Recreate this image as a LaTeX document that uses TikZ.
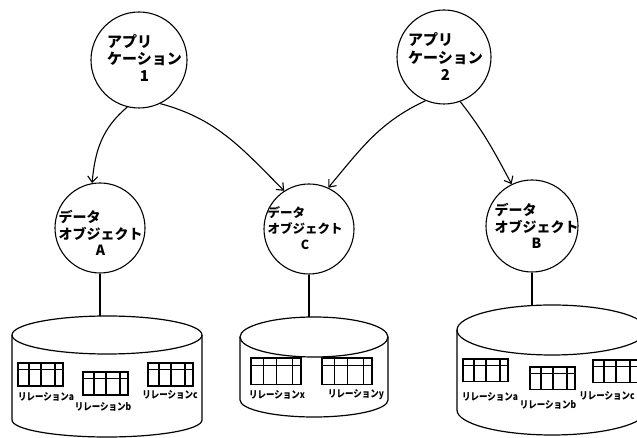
\documentclass[tikz,border=0pt]{standalone}
\usepackage{fontspec}
\newfontfamily\jp{Noto Sans CJK JP}
\newfontfamily\jpc[FakeStretch=0.85]{Noto Sans CJK JP}
\usetikzlibrary{arrows.meta}
\tikzset{
  circ/.style={circle, draw, line width=1.1pt, minimum size=#1, inner sep=0pt},
  apptext/.style={font=\jp\bfseries\fontsize{15}{17}\selectfont, inner sep=0pt},
  objtext/.style={font=\jp\bfseries\fontsize{14}{15.5}\selectfont, inner sep=0pt},
  objtextc/.style={font=\jp\bfseries\fontsize{12.5}{16}\selectfont, inner sep=0pt},
  rellabel/.style={font=\jpc\bfseries\fontsize{10}{11}\selectfont, inner sep=0pt},
  conn/.style={line width=1.1pt, -{Straight Barb[length=6pt,width=10pt]}},
  link/.style={line width=1.1pt},
  db/.style={line width=1.2pt},
  tline/.style={line width=1.1pt},
  tbl/.pic={
    \draw[tline] (0,0) rectangle (45,-23);
    \draw[tline] (0,-6.5) -- (45,-6.5);
    \draw[tline] (11,0) -- (11,-23) (23,0) -- (23,-23) (37,0) -- (37,-23);
  }
}
\begin{document}
\begin{tikzpicture}[x=1pt,y=1pt]
\useasboundingbox (0,0) rectangle (637,438);
\clip (0,0) rectangle (637,438);

% application circles
\node[circ=96] (app1) at (139,378) {};
\node[apptext] (app1t) at (144.5,377.5) {\begin{tabular}{@{}l@{}}アプリ\\ケーション\\\multicolumn{1}{@{}c@{}}{1}\end{tabular}};
\node[circ=94] (app2) at (444,381) {};
\node[apptext] (app2t) at (445.5,379) {\begin{tabular}{@{}l@{}}アプリ\\ケーション\\\multicolumn{1}{@{}c@{}}{2}\end{tabular}};

% data object circles
\node[circ=90] (objA) at (100,210) {};
\node[objtext] (objAt) at (100.5,203) {\begin{tabular}{@{}l@{}}データ\\オブジェクト\\\multicolumn{1}{@{}c@{}}{A}\end{tabular}};
\node[circ=90] (objC) at (309,209) {};
\node[objtextc] (objCt) at (305,208) {\begin{tabular}{@{}l@{}}データ\\オブジェクト\\\multicolumn{1}{@{}c@{}}{C}\end{tabular}};
\node[circ=92] (objB) at (532,212) {};
\node[objtext] (objBt) at (536.5,210) {\begin{tabular}{@{}l@{}}データ\\オブジェクト\\\multicolumn{1}{@{}c@{}}{B}\end{tabular}};

% arrows
\draw[conn] (app1.256) to[out=220,in=85] (objA.100);
\draw[conn] (app1.296) to[out=-15,in=135] (objC.123);
\draw[conn] (app2.247) to[out=205,in=50] (objC.65);
\draw[conn] (app2.290) to[out=-52,in=118] (objB.116);

% cylinders
\coordinate (topA) at (107,122);
\coordinate (topC) at (314,121);
\coordinate (topB) at (552,133);
\draw[db] (12,103) -- (12,18) arc[start angle=180,end angle=360,x radius=95,y radius=17] -- (202,103);
\draw[db] (107,103) ellipse[x radius=95,y radius=19];
\draw[db] (240,101) -- (240,38) arc[start angle=180,end angle=360,x radius=74,y radius=17] -- (388,101);
\draw[db] (314,101) ellipse[x radius=74,y radius=20];
\draw[db] (457,108) -- (457,28) arc[start angle=180,end angle=360,x radius=95,y radius=25] -- (647,108);
\draw[db] (552,108) ellipse[x radius=95,y radius=25];

% links
\draw[link] (objA.south) -- (objA.south |- topA);
\draw[link] (objC.south) -- (objC.south |- topC);
\draw[link] (objB.south) -- (objB.south |- topB);

% tables
\pic at (18,75) {tbl};
\pic at (83,66) {tbl};
\pic at (148,75) {tbl};
\pic[xscale=1.11,yscale=1.17] at (251,80) {tbl};
\pic[xscale=1.11,yscale=1.17] at (322,80) {tbl};
\pic[yscale=0.96] at (463,79) {tbl};
\pic[yscale=0.96] at (530,71) {tbl};
\pic[yscale=0.96] at (593,78) {tbl};

% labels
\node[rellabel] (rAa) at (46,41) {リレーションa};
\node[rellabel] (rAb) at (103,31) {リレーションb};
\node[rellabel] (rAc) at (170,43) {リレーションc};
\node[rellabel] (rCx) at (277,43) {リレーションx};
\node[rellabel] (rCy) at (356,43) {リレーションy};
\node[rellabel] (rBa) at (490,41) {リレーションa};
\node[rellabel] (rBb) at (548,33) {リレーションb};
\node[rellabel] (rBc) at (607,42) {リレーションc};
\end{tikzpicture}
\end{document}
